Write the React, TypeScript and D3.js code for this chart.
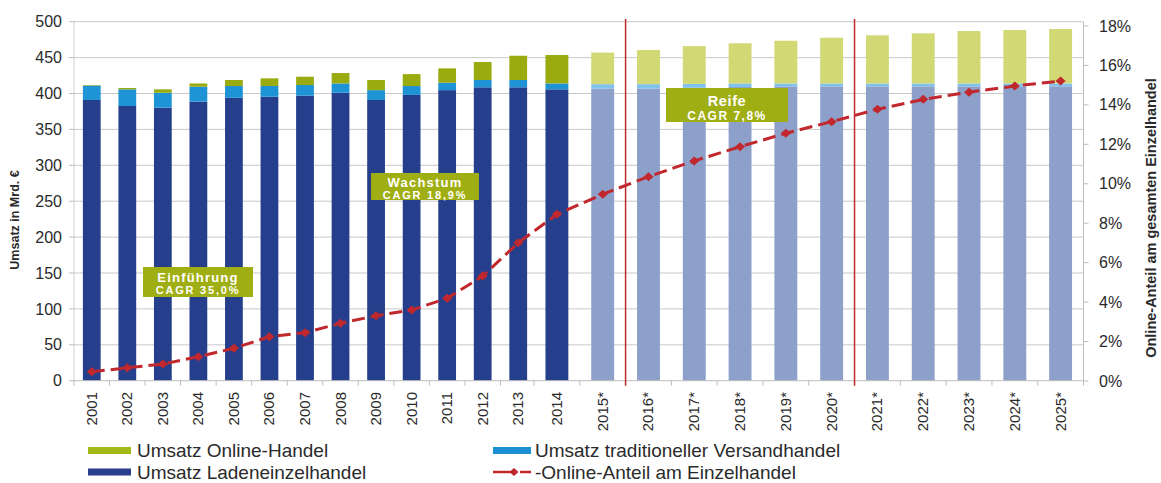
import React from "react";
import * as d3 from "d3";

// ---------- data ----------
const years = [
  "2001", "2002", "2003", "2004", "2005", "2006", "2007", "2008", "2009",
  "2010", "2011", "2012", "2013", "2014", "2015*", "2016*", "2017*", "2018*",
  "2019*", "2020*", "2021*", "2022*", "2023*", "2024*", "2025*",
];
// Umsatz Ladeneinzelhandel (Mrd. €)
const ladenUmsatz = [
  391, 382.6, 380.3, 388.6, 394, 395.5, 397, 401, 391, 398, 404.7, 408.6,
  408.6, 405.8, 407, 407, 408, 409, 410, 410, 410, 410, 410, 410, 410,
];
// Umsatz traditioneller Versandhandel (Mrd. €)
const versandUmsatz = [
  20, 23.2, 20.7, 20.9, 16.4, 15, 14.8, 13, 13.7, 12.4, 10.3, 10.2, 10.2,
  8.2, 6, 6, 5.5, 5, 4, 4, 4, 4, 4, 4, 4,
];
// Umsatz Online-Handel (Mrd. €)
const onlineUmsatz = [
  0.8, 1.9, 4.8, 4.5, 8.4, 10.6, 11.6, 14.5, 14.1, 16.6, 20, 25.1, 33.8,
  39.6, 44, 47.6, 52.5, 56, 59.5, 63.7, 67, 69.8, 73, 74.4, 75.8,
];
// Online-Anteil am Einzelhandel (%)
const onlineAnteil = [
  0.47, 0.67, 0.86, 1.23, 1.66, 2.25, 2.45, 2.93, 3.31, 3.6, 4.19, 5.32,
  7.01, 8.45, 9.47, 10.36, 11.16, 11.88, 12.56, 13.15, 13.78, 14.28, 14.64,
  14.96, 15.21,
];
const umsatzTicks = [0, 50, 100, 150, 200, 250, 300, 350, 400, 450, 500];
const anteilTicks = [0, 2, 4, 6, 8, 10, 12, 14, 16, 18];
const phaseEnds = ["2015*", "2020*"];
const phaseNames = ["Einführung", "Wachstum", "Reife"];
const phaseCagr = ["CAGR 35,0%", "CAGR 18,9%", "CAGR 7,8%"];
const legendLabels = [
  "Umsatz Online-Handel",
  "Umsatz traditioneller Versandhandel",
  "Umsatz Ladeneinzelhandel",
  "Online-Anteil am Einzelhandel",
];
const leftTitle = "Umsatz in Mrd. €";
const rightTitle = "Online-Anteil am gesamten Einzelhandel";

// ---------- styles ----------
const FONT = "'Liberation Sans', Arial, Helvetica, sans-serif";
const C_ACTUAL = { laden: "#263f8c", versand: "#1e93d5", online: "#9aab0f" };
const C_FORECAST = { laden: "#8da0c9", versand: "#80c2ea", online: "#d2d873" };
const C_RED = "#c0282e";
const C_BOX = "#9fae12";
const C_GRID = "#c9c9c9";
const C_TEXT = "#2a2a2a";

export default function App() {
  const W = 1161;
  const H = 483;

  const segA = years.slice(0, 13);
  const segB = years.slice(13);
  const xA = d3.scaleBand<string>().domain(segA).range([74, 536]).paddingInner(0.5).paddingOuter(0.25);
  const xB = d3.scaleBand<string>().domain(segB).range([534, 1083.5]).paddingInner(0.5).paddingOuter(0.25);
  const xs = (yr: string) => (segA.includes(yr) ? xA : xB);
  const cx = (yr: string) => (xs(yr)(yr) as number) + xs(yr).bandwidth() / 2;

  const y = d3.scaleLinear().domain([0, 500]).range([380.7, 21.7]);
  const yR = d3.scaleLinear().domain([0, 18]).range([381, 26]);

  const rows = years.map((yr, i) => ({
    year: yr,
    laden: ladenUmsatz[i],
    versand: versandUmsatz[i],
    online: onlineUmsatz[i],
  }));
  const keys = ["laden", "versand", "online"] as const;
  const stack = d3.stack<any>().keys(keys as any)(rows);

  const linePts = years.map((yr, i) => ({ year: yr, v: onlineAnteil[i] }));
  const linePath = d3
    .line<{ year: string; v: number }>()
    .x((d) => cx(d.year))
    .y((d) => yR(d.v))(linePts) as string;

  const diamond = (x: number, yy: number, w = 5, h = 4.5) =>
    `M${x - w},${yy}L${x},${yy - h}L${x + w},${yy}L${x},${yy + h}Z`;

  const xLeft = 74;
  const xRight = 1083.5;
  const yBase = y(0);

  const boundaries: number[] = [];
  segA.forEach((_, i) => boundaries.push(74 + i * xA.step()));
  segB.forEach((_, i) => boundaries.push(534 + i * xB.step()));
  boundaries.push(534 + segB.length * xB.step());

  // annotation boxes (layout)
  const boxes = [
    { x: 143, y: 267, w: 110, h: 30, s1: 13, s2: 11, ls1: 1.2, ls2: 1.8, d1: 10, d2: 23.5 },
    { x: 371, y: 173, w: 108, h: 27, s1: 13, s2: 11, ls1: 1.2, ls2: 1.8, d1: 9.5, d2: 22 },
    { x: 666, y: 88, w: 122, h: 34, s1: 14.5, s2: 12, ls1: 0.6, ls2: 1.5, d1: 12.5, d2: 28 },
  ];

  return (
    <svg
      width={W}
      height={H}
      viewBox={`0 0 ${W} ${H}`}
      style={{ position: "absolute", left: 0, top: 0, background: "#fff" }}
      fontFamily={FONT}
    >
      <rect x={0} y={0} width={W} height={H} fill="#fff" />

      {/* gridlines */}
      {umsatzTicks.filter((t) => t > 0).map((t) => (
        <line key={"g" + t} x1={xLeft} x2={xRight} y1={y(t)} y2={y(t)} stroke={C_GRID} strokeWidth={1} />
      ))}

      {/* left axis */}
      <line x1={xLeft} x2={xLeft} y1={y(500)} y2={yBase} stroke="#d0d0d0" strokeWidth={1} />
      {umsatzTicks.map((t) => (
        <g key={"l" + t}>
          <line x1={xLeft - 5} x2={xLeft} y1={y(t)} y2={y(t)} stroke="#bdbdbd" />
          <text x={62} y={y(t)} dy="0.35em" textAnchor="end" fontSize={16} fill={C_TEXT}>
            {t}
          </text>
        </g>
      ))}
      <text
        transform={`translate(19,220) rotate(-90)`}
        textAnchor="middle"
        fontSize={12.5}
        fontWeight="bold"
        fill={C_TEXT}
      >
        {leftTitle}
      </text>

      {/* right axis */}
      <line x1={xRight} x2={xRight} y1={22} y2={yBase} stroke="#bdbdbd" strokeWidth={1} />
      {anteilTicks.map((t) => (
        <g key={"r" + t}>
          <line x1={xRight} x2={xRight + 5} y1={yR(t)} y2={yR(t)} stroke="#bdbdbd" />
          <text x={1099} y={yR(t)} dy="0.35em" textAnchor="start" fontSize={16} fill={C_TEXT}>
            {t + "%"}
          </text>
        </g>
      ))}
      <text
        transform={`translate(1156,218) rotate(-90)`}
        textAnchor="middle"
        fontSize={14.5}
        fontWeight="bold"
        fill={C_TEXT}
      >
        {rightTitle}
      </text>

      {/* bars */}
      {stack.map((layer) => {
        const key = layer.key as "laden" | "versand" | "online";
        return (
          <g key={key}>
            {layer.map((d: any, i: number) => {
              const yr = years[i];
              const sc = xs(yr);
              const forecast = yr.endsWith("*");
              return (
                <rect
                  key={yr}
                  x={sc(yr)}
                  width={sc.bandwidth()}
                  y={y(d[1])}
                  height={Math.max(0, y(d[0]) - y(d[1]))}
                  fill={forecast ? C_FORECAST[key] : C_ACTUAL[key]}
                />
              );
            })}
          </g>
        );
      })}

      {/* x axis */}
      <line x1={xLeft} x2={xRight} y1={yBase} y2={yBase} stroke="#bdbdbd" strokeWidth={1} />
      {boundaries.map((b, i) => (
        <line key={"t" + i} x1={b} x2={b} y1={yBase} y2={yBase + 5} stroke="#bdbdbd" />
      ))}
      {years.map((yr) => (
        <text
          key={"x" + yr}
          transform={`translate(${cx(yr) + 5},${392}) rotate(-90)`}
          textAnchor="end"
          fontSize={15}
          fill={C_TEXT}
        >
          {yr}
        </text>
      ))}

      {/* phase separators */}
      {phaseEnds.map((yr) => {
        const xx = cx(yr) + xs(yr).step() / 2;
        return <line key={"p" + yr} x1={xx} x2={xx} y1={19} y2={yBase + 5} stroke={C_RED} strokeWidth={1.5} />;
      })}

      {/* line series */}
      <path d={linePath} fill="none" stroke={C_RED} strokeWidth={3} strokeDasharray="13 6" />
      {linePts.map((d) => (
        <path key={"m" + d.year} d={diamond(cx(d.year), yR(d.v))} fill={C_RED} />
      ))}

      {/* phase annotations */}
      {boxes.map((b, i) => (
        <g key={"b" + i}>
          <rect x={b.x} y={b.y} width={b.w} height={b.h} fill={C_BOX} />
          <text
            x={b.x + b.w / 2}
            y={b.y + b.d1}
            dy="0.35em"
            textAnchor="middle"
            fontSize={b.s1}
            fontWeight="bold"
            letterSpacing={b.ls1}
            fill="#fff"
          >
            {phaseNames[i]}
          </text>
          <text
            x={b.x + b.w / 2}
            y={b.y + b.d2}
            dy="0.35em"
            textAnchor="middle"
            fontSize={b.s2}
            fontWeight="bold"
            letterSpacing={b.ls2}
            fill="#fff"
          >
            {phaseCagr[i]}
          </text>
        </g>
      ))}

      {/* legend */}
      <g fontSize={19} fill={C_TEXT}>
        <rect x={88} y={447} width={43} height={7} fill="#a2b916" />
        <text x={137} y={450.5} dy="0.35em">{legendLabels[0]}</text>
        <rect x={493} y={447} width={38} height={7} fill="#1c90d2" />
        <text x={535} y={450.5} dy="0.35em">{legendLabels[1]}</text>
        <rect x={88} y={468.5} width={43} height={7} fill="#2b3f8f" />
        <text x={137} y={472} dy="0.35em">{legendLabels[2]}</text>
        <line x1={493} x2={512} y1={472} y2={472} stroke={C_RED} strokeWidth={2.5} />
        <line x1={520} x2={531} y1={472} y2={472} stroke={C_RED} strokeWidth={2.5} />
        <path d={diamond(514, 472, 4.5, 4)} fill={C_RED} />
        <text x={535} y={472} dy="0.35em">{"-" + legendLabels[3]}</text>
      </g>
    </svg>
  );
}
